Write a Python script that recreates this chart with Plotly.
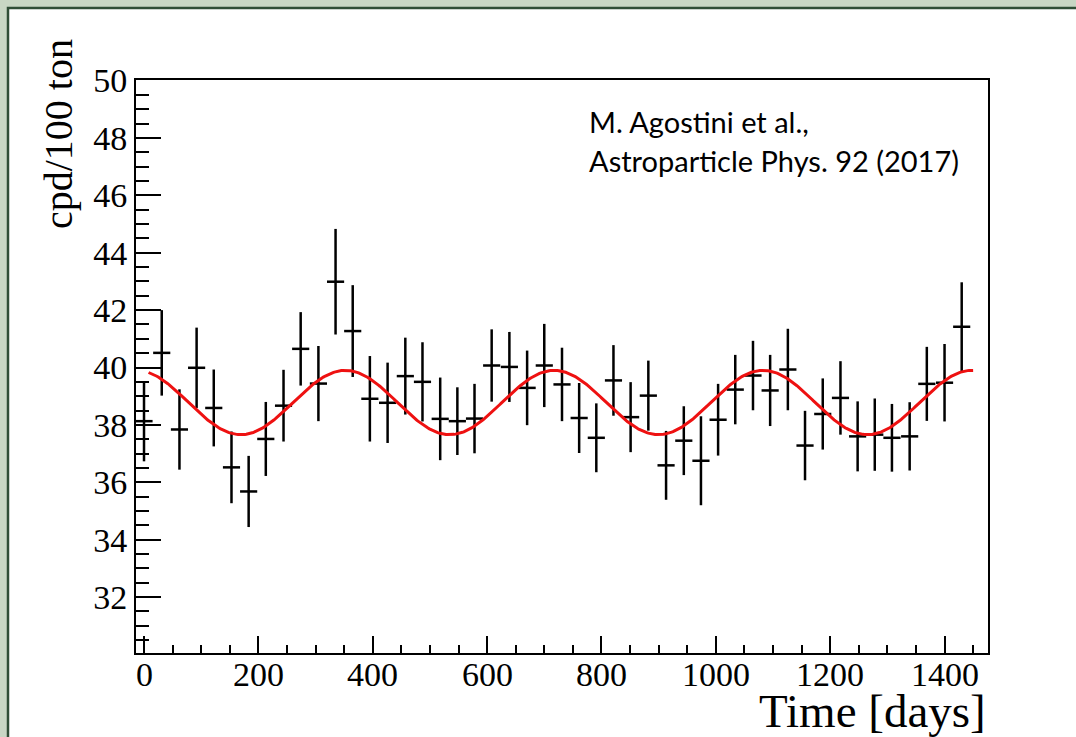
import numpy as np
import plotly.graph_objects as go

# ---- data ----
days = [0, 31, 62, 92, 122, 153, 183, 213, 244, 274, 305, 335, 365, 395, 426, 457,
        487, 518, 548, 578, 608, 639, 670, 700, 731, 761, 791, 821, 851, 882, 913, 944,
        974, 1004, 1034, 1065, 1095, 1126, 1156, 1187, 1218, 1248, 1278, 1308, 1339,
        1369, 1400, 1430]
rate = [38.13, 40.51, 37.84, 39.99, 38.59, 36.52, 35.68, 37.51, 38.67, 40.65, 39.44,
        42.99, 41.27, 38.91, 38.77, 39.70, 39.50, 38.21, 38.13, 38.22, 40.07, 40.02,
        39.29, 40.07, 39.41, 38.24, 37.55, 39.55, 38.27, 39.02, 36.59, 37.45, 36.75,
        38.18, 39.23, 39.72, 39.20, 39.93, 37.28, 38.38, 38.94, 37.60, 37.66, 37.55,
        37.60, 39.43, 39.47, 41.42]
rate_err = [1.40, 1.49, 1.40, 1.40, 1.34, 1.25, 1.24, 1.29, 1.25, 1.28, 1.31, 1.84,
            1.60, 1.49, 1.40, 1.34, 1.38, 1.44, 1.18, 1.21, 1.26, 1.22, 1.30, 1.45,
            1.28, 1.22, 1.20, 1.23, 1.22, 1.22, 1.20, 1.20, 1.55, 1.25, 1.21, 1.21,
            1.24, 1.42, 1.21, 1.24, 1.28, 1.22, 1.26, 1.18, 1.19, 1.29, 1.35, 1.55]
bin_half_width = [15] * len(days)

# fit function parameters (annual modulation)
FIT_MEAN = 38.78
FIT_AMP = 1.12
FIT_PERIOD = 365.25
FIT_PEAK_DAY = 352.0
FIT_T_START, FIT_T_END = 8.0, 1450.0

x_tick_vals = [0, 200, 400, 600, 800, 1000, 1200, 1400]
x_tick_text = ["0", "200", "400", "600", "800", "1000", "1200", "1400"]
y_tick_vals = [32, 34, 36, 38, 40, 42, 44, 46, 48, 50]

t_fit = np.linspace(FIT_T_START, FIT_T_END, 600)
y_fit = FIT_MEAN + FIT_AMP * np.cos(2 * np.pi * (t_fit - FIT_PEAK_DAY) / FIT_PERIOD)

W, H = 1076, 737
ML, MR, MT, MB = 136, 88, 80, 84
PW, PH = W - ML - MR, H - MT - MB
BG = "#c8d6c4"

def px_x(X):
    return (X - ML) / PW

def px_y(Y):
    return (H - MB - Y) / PH

fig = go.Figure()
fig.add_trace(go.Scatter(
    x=days, y=rate, mode="markers",
    marker=dict(size=2, color="black"),
    error_y=dict(type="data", array=rate_err, visible=True, width=0, thickness=2.5, color="black"),
    error_x=dict(type="data", array=bin_half_width, visible=True, width=0, thickness=2.5, color="black"),
    showlegend=False, hoverinfo="skip"))
fig.add_trace(go.Scatter(
    x=t_fit, y=y_fit, mode="lines",
    line=dict(color="#ee1111", width=3), showlegend=False, hoverinfo="skip"))

serif = "Liberation Serif"
axis_common = dict(
    showgrid=False, zeroline=False, showline=True, linecolor="black", linewidth=2,
    mirror=True, ticks="inside", tickcolor="black", tickwidth=2,
    tickfont=dict(family=serif, size=34, color="black"),
)
fig.update_xaxes(range=[-14, 1476], tickmode="array", tickvals=x_tick_vals, ticklen=17,
                 showticklabels=False,
                 minor=dict(dtick=50, tick0=0, ticks="inside", ticklen=8, tickwidth=2,
                            tickcolor="black", showgrid=False),
                 **axis_common)
fig.update_yaxes(range=[30.05, 50.02], tickmode="array", tickvals=y_tick_vals, ticklen=25,
                 minor=dict(dtick=0.5, tick0=0, ticks="inside", ticklen=13, tickwidth=2,
                            tickcolor="black", showgrid=False),
                 **axis_common)

shapes = [dict(type="rect", xref="paper", yref="paper", layer="below",
               x0=px_x(8), x1=px_x(W + 40), y0=px_y(H + 40), y1=px_y(8),
               fillcolor="white", line=dict(color="#2f4d36", width=2.5))]

annotations = [
    dict(text=t, xref="x", yref="paper", x=v, y=px_y(674), xanchor="center",
         yanchor="middle", showarrow=False, font=dict(family=serif, size=34, color="black"))
    for v, t in zip(x_tick_vals, x_tick_text)
]
annotations += [
    dict(text="Time [days]", xref="paper", yref="paper", x=1.0, y=px_y(711),
         xanchor="right", yanchor="middle", showarrow=False,
         font=dict(family=serif, size=47, color="black")),
    dict(text="cpd/100 ton", xref="paper", yref="paper", x=px_x(58), y=px_y(134),
         xanchor="center", yanchor="middle", textangle=-90, showarrow=False,
         font=dict(family=serif, size=40, color="black")),
    dict(text="M. Agostini et al.,", xref="paper", yref="paper", x=px_x(587), y=px_y(121),
         xanchor="left", yanchor="middle", showarrow=False,
         font=dict(family="Lato", size=29, color="black")),
    dict(text="Astroparticle Phys. 92 (2017)", xref="paper", yref="paper", x=px_x(587),
         y=px_y(160), xanchor="left", yanchor="middle", showarrow=False,
         font=dict(family="Lato", size=29, color="black")),
]

fig.update_layout(
    width=W, height=H, margin=dict(l=ML, r=MR, t=MT, b=MB, pad=0),
    paper_bgcolor=BG, plot_bgcolor="white",
    shapes=shapes, annotations=annotations,
)
fig.write_html(
    "out.html",
    config={"displayModeBar": False},
    post_script="document.body.style.margin='0';document.body.style.overflow='hidden';"
                "document.body.style.background='" + BG + "';",
)
